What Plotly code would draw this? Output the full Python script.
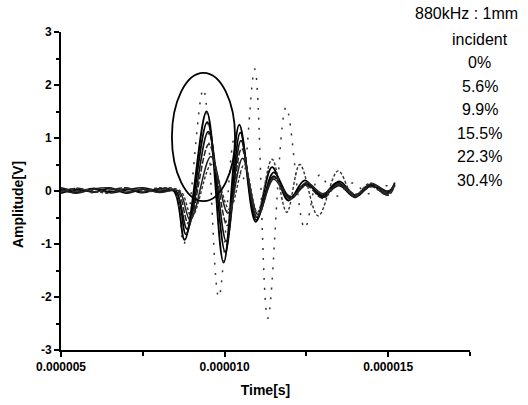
import plotly.graph_objects as go

# ---- data (time in microseconds, amplitude in V) ----
T_INC = [5.0, 5.5, 6.0, 6.5, 7.0, 7.5, 8.0, 8.45, 8.78, 9.45, 9.97, 10.45, 10.95, 11.45, 11.95, 12.45, 12.95, 13.45, 13.95, 14.45, 14.95, 15.2]
A_INC = [0.04, -0.03, 0.05, -0.02, 0.04, -0.03, 0.04, 0.0, -0.92, 1.5, -1.35, 1.25, -0.58, 0.45, -0.18, 0.2, -0.1, 0.16, -0.1, 0.12, -0.06, 0.12]

T_P0 = [5.0, 5.5, 6.0, 6.5, 7.0, 7.5, 8.0, 8.5, 8.82, 9.47, 10.02, 10.48, 10.97, 11.5, 12.0, 12.5, 13.0, 13.5, 14.0, 14.5, 15.0, 15.2]
A_P0 = [-0.04, 0.03, -0.02, 0.05, -0.04, 0.03, -0.02, 0.0, -0.82, 1.3, -1.15, 1.1, -0.55, 0.35, -0.12, 0.15, -0.12, 0.18, -0.08, 0.1, -0.02, 0.15]

T_P56 = [5.0, 5.5, 6.0, 6.5, 7.0, 7.5, 8.0, 8.5, 8.86, 9.5, 10.05, 10.5, 10.98, 11.5, 12.0, 12.5, 13.0, 13.5, 14.0, 14.5, 15.0, 15.2]
A_P56 = [0.06, 0.0, 0.04, -0.03, 0.02, 0.06, 0.0, 0.0, -0.72, 1.12, -0.95, 0.95, -0.5, 0.28, -0.15, 0.12, -0.08, 0.1, -0.12, 0.12, 0.0, 0.12]

T_P99 = [5.0, 5.5, 6.0, 6.5, 7.0, 7.5, 8.0, 8.55, 8.9, 9.52, 10.08, 10.52, 11.0, 11.5, 12.0, 12.5, 13.0, 13.5, 14.0, 14.5, 15.0, 15.2]
A_P99 = [0.0, 0.05, -0.02, 0.02, 0.06, -0.02, 0.04, 0.0, -0.62, 0.88, -0.65, 0.8, -0.5, 0.25, -0.1, 0.1, -0.14, 0.14, -0.06, 0.08, -0.08, 0.1]

T_P155 = [5.0, 5.5, 6.0, 6.5, 7.0, 7.5, 8.0, 8.6, 8.95, 9.58, 10.1, 10.55, 11.02, 11.5, 12.0, 12.5, 13.0, 13.5, 14.0, 14.5, 15.0, 15.2]
A_P155 = [0.02, -0.04, 0.04, 0.06, -0.02, 0.04, -0.03, 0.0, -0.55, 0.65, -0.42, 0.62, -0.45, 0.22, -0.16, 0.16, -0.05, 0.12, -0.1, 0.14, -0.04, 0.16]

T_P223 = [5.0, 5.5, 6.0, 6.5, 7.0, 7.5, 8.0, 8.65, 9.0, 9.6, 10.15, 10.6, 11.0, 11.45, 11.9, 12.3, 12.86, 13.47, 13.95, 14.45, 14.95, 15.2]
A_P223 = [-0.02, 0.05, 0.0, -0.04, 0.05, 0.0, 0.06, 0.0, -0.48, 0.5, -0.35, 0.5, -0.4, 0.6, -0.4, 0.5, -0.47, 0.38, -0.1, 0.15, -0.08, 0.1]

T_P304 = [5.0, 5.5, 6.0, 6.5, 7.0, 7.5, 8.0, 8.45, 8.75, 9.35, 9.82, 10.3, 10.55, 10.92, 11.32, 11.88, 12.45, 12.9, 13.4, 13.9, 14.4, 14.9, 15.2]
A_P304 = [0.05, 0.0, -0.03, 0.05, 0.0, -0.03, 0.02, 0.0, -1.0, 1.92, -2.0, 1.0, 0.2, 2.3, -2.4, 1.58, -0.7, 0.3, -0.1, 0.15, -0.05, 0.1, 0.05]

SERIES_NAMES = ["incident", "0%", "5.6%", "9.9%", "15.5%", "22.3%", "30.4%"]
LEGEND_TITLE = "880kHz : 1mm"

X_TICK_VALS = [5e-6, 1e-5, 1.5e-5]
X_TICK_TEXT = ["0.000005", "0.000010", "0.000015"]
Y_TICK_VALS = [-3, -2, -1, 0, 1, 2, 3]
Y_TICK_TEXT = ["-3", "-2", "-1", "0", "1", "2", "3"]

series = [
    (T_INC, A_INC, dict(color="black", width=1.9, dash="solid")),
    (T_P0, A_P0, dict(color="black", width=1.7, dash="solid")),
    (T_P56, A_P56, dict(color="#111", width=1.6, dash="solid")),
    (T_P99, A_P99, dict(color="#222", width=1.5, dash="6px,2px")),
    (T_P155, A_P155, dict(color="#222", width=1.5, dash="solid")),
    (T_P223, A_P223, dict(color="#333", width=1.4, dash="3px,2px")),
    (T_P304, A_P304, dict(color="#333", width=1.5, dash="2px,8px")),
]

fig = go.Figure()
for (t, a, ln), name in zip(series, SERIES_NAMES):
    fig.add_trace(go.Scatter(
        x=[v * 1e-6 for v in t], y=a, mode="lines", name=name,
        line=dict(shape="spline", smoothing=1.0, **ln), showlegend=False,
    ))

# circle highlighting the first peak
fig.add_shape(type="circle", xref="x", yref="y",
              x0=8.39e-6, x1=10.32e-6, y0=-0.19, y1=2.23,
              line=dict(color="black", width=1.8))

FONT = "Liberation Sans, Arial, sans-serif"

# legend-like text labels on the right
fig.add_annotation(text=LEGEND_TITLE, xref="paper", yref="paper",
                   x=0.992, y=1.057, xanchor="center", yanchor="middle",
                   showarrow=False, font=dict(family=FONT, size=16, color="black"))
for i, name in enumerate(SERIES_NAMES):
    fig.add_annotation(text=name, xref="paper", yref="paper",
                       x=1.0244, y=0.977 - i * 0.0739, xanchor="center", yanchor="middle",
                       showarrow=False, font=dict(family=FONT, size=16, color="black"))

# y-axis title
fig.add_annotation(text="<b>Amplitude[V]</b>", xref="paper", yref="paper",
                   x=-0.105, y=0.456, xanchor="center", yanchor="middle", textangle=-90,
                   showarrow=False, font=dict(family=FONT, size=14, color="black"))

fig.update_layout(
    width=528, height=405,
    margin=dict(l=61, r=58, t=32, b=55, autoexpand=False),
    paper_bgcolor="white", plot_bgcolor="white",
    font=dict(family=FONT, size=12, color="black"),
    showlegend=False,
    xaxis=dict(
        range=[5e-6, 1.75e-5], tickmode="array", tickvals=X_TICK_VALS,
        ticktext=["<b>" + s + "</b>" for s in X_TICK_TEXT],
        ticks="outside", ticklen=5, tickwidth=2, tickcolor="black",
        minor=dict(tickmode="linear", tick0=5e-6, dtick=2.5e-6, ticks="outside", ticklen=4, tickwidth=2, tickcolor="black"),
        showline=True, linewidth=2, linecolor="black", showgrid=False, zeroline=False,
        automargin=False,
        tickfont=dict(family=FONT, size=12, color="black"),
        title=dict(text="<b>Time[s]</b>", font=dict(family=FONT, size=14), standoff=12),
    ),
    yaxis=dict(
        range=[-3, 3], tickmode="array", tickvals=Y_TICK_VALS,
        ticktext=["<b>" + s + "</b>" for s in Y_TICK_TEXT],
        ticks="outside", ticklen=5, tickwidth=2, tickcolor="black",
        minor=dict(tickmode="linear", tick0=0, dtick=0.5, ticks="outside", ticklen=3, tickwidth=1.5, tickcolor="black"),
        showline=True, linewidth=2, linecolor="black", showgrid=False, zeroline=False,
        automargin=False,
        tickfont=dict(family=FONT, size=12, color="black"),
    ),
)

fig.write_html("out.html", config={"displayModeBar": False},
               post_script="document.body.style.margin='0px';")
